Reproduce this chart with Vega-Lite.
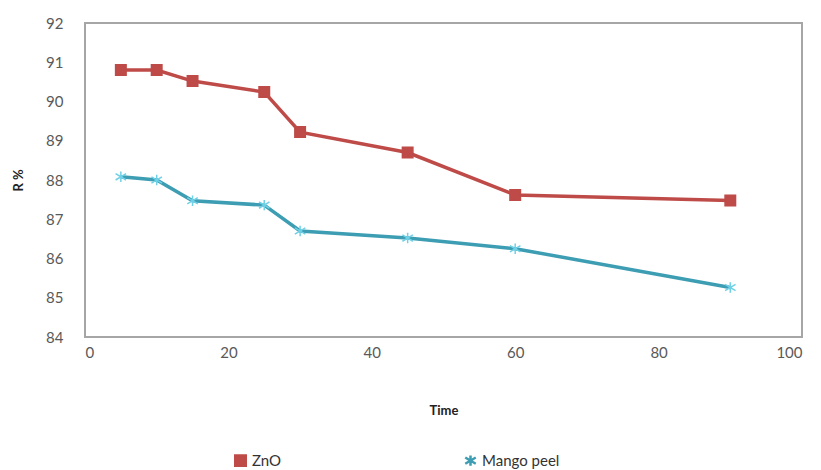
{
  "$schema": "https://vega.github.io/schema/vega-lite/v6.json",
  "width": 717,
  "height": 314,
  "autosize": "none",
  "padding": {"left": 85, "top": 23, "right": 19, "bottom": 133},
  "background": "white",
  "config": {
    "font": "Lato",
    "view": {"stroke": "#A6A6A6", "strokeWidth": 2},
    "axis": {"labelFont": "Lato", "labelFontSize": 15, "labelColor": "#595959", "titleFont": "Lato", "titleFontSize": 13, "titleColor": "#222222", "titleFontWeight": "bold", "grid": false, "ticks": false, "domain": false}
  },
  "data": {"values": [
    {"t": 5, "r": 90.8, "s": "ZnO"},
    {"t": 10, "r": 90.8, "s": "ZnO"},
    {"t": 15, "r": 90.52, "s": "ZnO"},
    {"t": 25, "r": 90.24, "s": "ZnO"},
    {"t": 30, "r": 89.22, "s": "ZnO"},
    {"t": 45, "r": 88.7, "s": "ZnO"},
    {"t": 60, "r": 87.62, "s": "ZnO"},
    {"t": 90, "r": 87.48, "s": "ZnO"},
    {"t": 5, "r": 88.08, "s": "Mango peel"},
    {"t": 10, "r": 88.0, "s": "Mango peel"},
    {"t": 15, "r": 87.47, "s": "Mango peel"},
    {"t": 25, "r": 87.36, "s": "Mango peel"},
    {"t": 30, "r": 86.7, "s": "Mango peel"},
    {"t": 45, "r": 86.52, "s": "Mango peel"},
    {"t": 60, "r": 86.25, "s": "Mango peel"},
    {"t": 90, "r": 85.26, "s": "Mango peel"}
  ]},
  "encoding": {
    "x": {"field": "t", "type": "quantitative", "title": "Time", "scale": {"domain": [0, 100]}, "axis": {"values": [0, 20, 40, 60, 80, 100], "labelPadding": 8, "titlePadding": 44}},
    "y": {"field": "r", "type": "quantitative", "title": "R %", "scale": {"domain": [84, 92]}, "axis": {"values": [84, 85, 86, 87, 88, 89, 90, 91, 92], "labelPadding": 22, "titlePadding": 20}},
    "color": {"field": "s", "type": "nominal", "title": null, "scale": {"domain": ["ZnO", "Mango peel"], "range": ["#BE4B48", "#3C9DB3"]},
      "legend": {"orient": "none", "legendX": 148, "legendY": 430, "direction": "horizontal", "columns": 2, "columnPadding": 178, "labelFontSize": 15, "labelColor": "#333333", "symbolSize": 110, "symbolStrokeWidth": 2.5}}
  },
  "layer": [
    {"mark": {"type": "line", "strokeWidth": 3.5}},
    {"mark": {"type": "point", "filled": true, "size": 110, "strokeWidth": 1.5, "opacity": 1},
     "encoding": {
       "shape": {"field": "s", "type": "nominal", "scale": {"domain": ["ZnO", "Mango peel"], "range": ["square", "M-1,-0.6L1,0.6M-1,0.6L1,-0.6M0,-1L0,1"]}},
       "stroke": {"field": "s", "type": "nominal", "scale": {"domain": ["ZnO", "Mango peel"], "range": ["#BE4B48", "#6FD0E6"]}, "legend": null}
     }}
  ]
}
